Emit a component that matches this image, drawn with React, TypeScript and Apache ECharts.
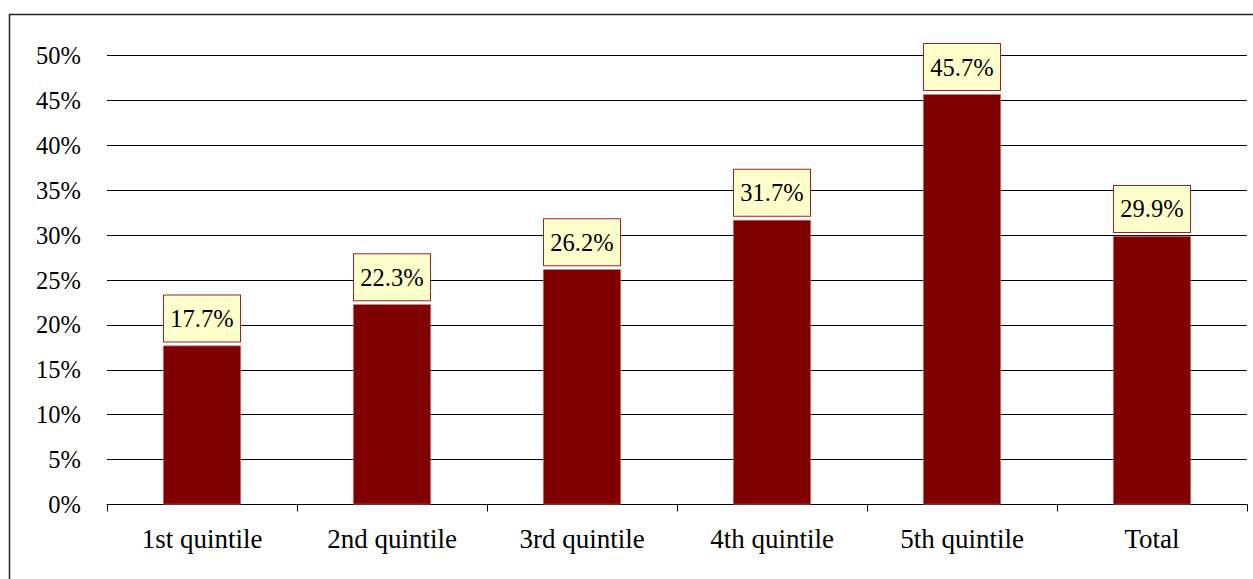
import React, { useEffect, useRef } from "react";
import * as echarts from "echarts";

const categories = ["1st quintile", "2nd quintile", "3rd quintile", "4th quintile", "5th quintile", "Total"];
const values = [17.7, 22.3, 26.2, 31.7, 45.7, 29.9];
const yTicks = [0, 5, 10, 15, 20, 25, 30, 35, 40, 45, 50];

const FONT = "'Liberation Serif', 'Times New Roman', serif";

export default function App() {
  const ref = useRef<HTMLDivElement>(null);
  useEffect(() => {
    if (!ref.current) return;
    const chart = echarts.init(ref.current, null, { renderer: "svg" });
    chart.setOption({
      animation: false,
      backgroundColor: "#ffffff",
      graphic: [
        {
          type: "rect",
          shape: { x: 9.5, y: 14.5, width: 1300, height: 700 },
          style: { fill: "none", stroke: "#222", lineWidth: 1.5 },
          silent: true,
          z: 100,
        },
      ],
      grid: { left: 107, right: 6, top: 55.5, bottom: 74.5, containLabel: false },
      xAxis: {
        type: "category",
        data: categories,
        axisLine: { show: true, lineStyle: { color: "#000", width: 1 } },
        axisTick: { show: true, alignWithLabel: false, length: 7, lineStyle: { color: "#000" } },
        axisLabel: { color: "#000", fontFamily: FONT, fontSize: 27, margin: 21 },
        splitLine: { show: false },
      },
      yAxis: {
        type: "value",
        min: yTicks[0],
        max: yTicks[yTicks.length - 1],
        interval: 5,
        axisLine: { show: false },
        axisTick: { show: false },
        axisLabel: {
          color: "#000",
          fontFamily: FONT,
          fontSize: 24.5,
          margin: 26,
          formatter: (v: number) => `${v}%`,
        },
        splitLine: { show: true, lineStyle: { color: "#000", width: 1 } },
      },
      series: [
        {
          type: "bar",
          data: values,
          barWidth: 78,
          itemStyle: { color: "#800000", borderColor: "#c88a8a", borderWidth: 0.6 },
          label: {
            show: true,
            position: "top",
            distance: 4,
            formatter: (p: any) => `${p.value.toFixed(1)}%`,
            color: "#000",
            fontFamily: FONT,
            fontSize: 24.5,
            lineHeight: 24,
            width: 76,
            align: "center",
            padding: [11, 0, 11, 0],
            backgroundColor: "#FFFFCC",
            borderColor: "#A0202A",
            borderWidth: 1,
          },
        },
      ],
    });
    return () => chart.dispose();
  }, []);
  return (
    <div
      ref={ref}
      style={{ position: "absolute", left: 0, top: 0, width: 1253, height: 579 }}
    />
  );
}
